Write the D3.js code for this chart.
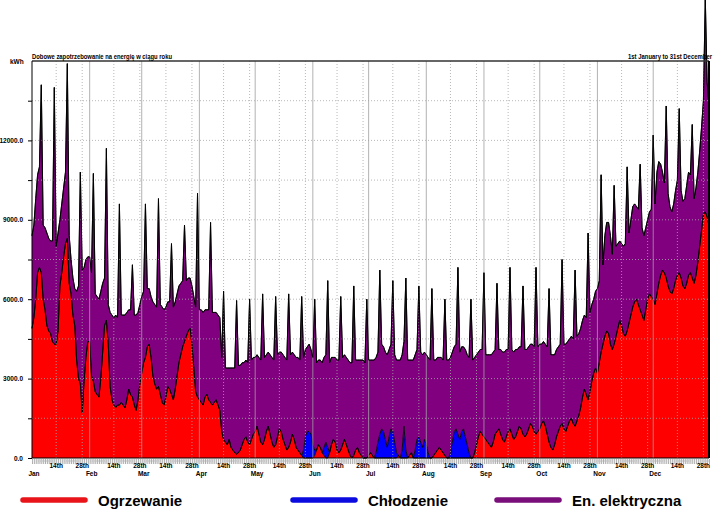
<!DOCTYPE html>
<html><head><meta charset="utf-8">
<script src="https://cdn.jsdelivr.net/npm/d3@7"></script>
<style>body{margin:0;background:#fff} svg{display:block}</style>
</head><body>
<svg id="c" width="721" height="516"></svg>
<script>
const months = ["Jan","Feb","Mar","Apr","May","Jun","Jul","Aug","Sep","Oct","Nov","Dec"];
const monthStarts = [1,32,60,91,121,152,182,213,244,274,305,335];
const dayLabels = ["14th","28th"];
const yTicks = [0,3000,6000,9000,12000];
const seriesNames = ["Ogrzewanie","Chłodzenie","En. elektryczna"];
const seriesColors = ["#ff0000","#0000ff","#800080"];

// daily heating (kWh), by month
const heatingByMonth = [
 [4900,5300,6000,7000,7200,7000,6000,5600,5000,4800,4700,4400,4300,4300,4800,6500,7000,7600,8100,8300,6600,6200,5400,5000,3700,3000,2800,1700,2900,3800,4400],
 [4400,3100,2900,2500,2400,2300,3000,4000,5000,5200,4300,2700,2200,2000,1900,2000,2000,2100,2000,1900,2200,2600,2400,2300,2000,1800,2200,2800],
 [3200,3600,3800,4200,4300,3800,3100,2800,2600,2700,2400,2100,2000,2300,2700,2600,2400,2200,2600,3100,3600,3900,4200,4400,4600,4800,4900,4300,3400,2500,2300],
 [2200,2100,2000,2300,2400,2200,2100,2000,2100,2200,2000,1800,1000,700,600,500,700,400,300,200,150,200,300,500,700,800,600,500,700,900],
 [1000,1200,900,600,500,700,1000,1200,900,600,400,500,800,1100,1000,700,500,300,400,600,900,700,400,300,200,100,0,0,0,0,0],
 [0,100,300,500,400,200,100,0,0,200,500,700,600,300,200,300,500,700,500,300,100,0,100,300,400,200,100,0,0,0],
 [100,200,100,0,0,0,0,0,0,0,0,0,0,0,0,0,100,0,0,0,0,0,100,200,0,0,0,0,0,0,0],
 [0,0,0,0,100,200,300,400,300,200,100,0,0,0,0,0,0,0,0,0,0,0,0,0,0,0,200,500,800,1000,900],
 [800,700,600,500,400,600,900,1000,1100,900,700,600,800,1000,1100,900,700,800,1000,1200,1100,900,800,900,1100,1300,1200,1000,900,1000],
 [1100,1300,1400,1200,900,600,400,300,500,800,1000,1200,1300,1100,1000,1200,1400,1500,1300,1200,1400,1600,1900,2300,2600,2400,2200,2500,2900,3200,3400],
 [3200,3600,4000,4300,4600,4800,4700,4300,4100,4300,4600,4900,5200,5000,4700,4600,4800,5100,5400,5700,5900,6000,5800,5600,5400,5200,5600,6000,6200,6100],
 [6000,5800,6200,6600,6900,7100,7000,6800,6500,6300,6200,6400,6700,6900,7000,6800,6500,6400,6600,6900,7000,6800,6600,6900,7400,8000,8600,9200,9300,9100,8800]
];
// daily cooling (kWh), by month
const coolingByMonth = [
 [0,0,0,0,0,0,0,0,0,0,0,0,0,0,0,0,0,0,0,0,0,0,0,0,0,0,0,0,0,0,0],
 [0,0,0,0,0,0,0,0,0,0,0,0,0,0,0,0,0,0,0,0,0,0,0,0,0,0,0,0],
 [0,0,0,0,0,0,0,0,0,0,0,0,0,0,0,0,0,0,0,0,0,0,0,0,0,0,0,0,0,0,0],
 [0,0,0,0,0,0,0,0,0,0,0,0,0,0,0,0,0,0,0,0,0,0,0,0,0,0,0,0,0,0],
 [0,0,0,0,0,0,0,0,0,0,0,0,0,0,0,0,0,0,0,0,0,0,0,0,0,0,300,800,1000,1000,900],
 [500,200,0,0,0,0,300,600,400,0,0,0,0,0,0,0,0,0,0,0,0,0,0,0,0,0,0,0,0,0],
 [0,0,0,0,200,600,900,1100,1000,700,400,800,1100,1000,600,200,0,0,300,1200,300,0,0,0,0,300,700,800,600,400,700],
 [500,200,0,0,0,0,0,0,0,0,0,0,0,200,600,1000,1100,900,700,1000,1100,800,500,200,0,0,0,0,0,0,0],
 [0,0,0,0,0,0,0,0,0,0,0,0,0,0,0,0,0,0,0,0,0,0,0,0,0,0,0,0,0,0],
 [0,0,0,0,0,0,0,0,0,0,0,0,0,0,0,0,0,0,0,0,0,0,0,0,0,0,0,0,0,0,0],
 [0,0,0,0,0,0,0,0,0,0,0,0,0,0,0,0,0,0,0,0,0,0,0,0,0,0,0,0,0,0],
 [0,0,0,0,0,0,0,0,0,0,0,0,0,0,0,0,0,0,0,0,0,0,0,0,0,0,0,0,0,0,0]
];
// daily electricity (kWh), by month
const electricityByMonth = [
 [3500,3500,3800,3700,3800,7100,2800,3100,3500,3500,3500,3800,9700,3700,3700,2500,2600,2600,2700,6600,1800,1300,1400,1400,2600,3500,8000,5400,4300,3700,3200],
 [3200,3900,7850,3700,3700,3700,3300,2600,1800,6500,1500,2800,3200,3300,3500,3300,7600,3300,3400,3500,3300,3000,3200,5000,3400,3600,3300,3000],
 [2900,2700,5800,2200,2100,2300,2800,3000,3100,7100,3400,3600,3600,3400,3200,3300,5700,3500,3300,3100,2900,2700,2500,4400,2100,2000,1900,2200,2700,3200,7700],
 [3400,3500,3500,3300,3200,3400,6800,3500,3400,3300,3400,3500,2800,5600,2800,2900,2700,3000,3100,3200,5800,3300,3200,3100,2900,2900,3000,5500,3000,2900],
 [2800,2700,2900,3100,5700,3100,2900,2800,3000,3200,3300,5600,3100,2900,3000,3200,3300,3400,5800,3300,3100,3200,3400,3500,3500,6000,3500,3300,3200,3300,3200],
 [3300,5700,3300,3200,3300,3400,3400,3300,6300,3400,3300,3100,3200,3400,3500,5800,3300,3200,3300,3400,3500,3600,6400,3400,3300,3500,3600,3700,3600,6000],
 [3600,3500,3600,3700,3600,3400,6200,3200,3200,3300,3500,3300,3200,5700,3300,3500,3600,3700,3600,3200,6500,3700,3600,3500,3700,3600,3400,5700,3400,3500,3300],
 [3400,3600,3700,6400,3600,3500,3500,3400,3500,3500,5900,3700,3700,3600,3400,3200,3200,6300,3300,3200,3100,3300,3400,3600,6000,3700,3600,3400,3200,3100,3200],
 [6200,3200,3300,3400,3500,3400,3200,5600,3000,3200,3300,3400,3300,3100,6100,3200,3300,3300,3100,3000,3100,5600,3300,3200,3100,3000,3100,3200,6300,3200],
 [3200,3000,3000,3100,3300,5800,3500,3600,3400,3300,3200,3100,6200,3200,3300,3200,3100,3100,3200,5900,3200,3100,3000,2900,2800,2900,6300,3000,2900,2800,2900],
 [3200,3100,6700,3000,3800,4100,4200,4100,3600,6000,3400,3200,3000,3100,3300,3500,6200,3400,3600,3800,3700,3500,3600,5500,3300,3200,3100,3000,3100,3300],
 [6200,3800,4600,4600,4200,3700,3400,6500,3500,3200,3100,3200,3400,3600,6200,3300,3200,3400,3700,3900,3700,5800,3200,3300,3400,3600,3900,4300,8100,5100,4500]
];

const heating = heatingByMonth.flat();
const cooling = coolingByMonth.flat();
const electricity = electricityByMonth.flat();

const svg = d3.select("#c");
const X0 = 32, X1 = 709, Y0 = 458, Y1 = 61;
const x = d3.scaleLinear().domain([1, 365]).range([X0, X1]);
const y = d3.scaleLinear().domain([0, 15000]).range([Y0, Y1]);

const data = heating.map((h, i) => ({day: i + 1, h: h, c: cooling[i] || 0, e: electricity[i] || 0}));
const stacked = d3.stack().keys(["h", "c", "e"])(data);

const area = d3.area().x(d => x(d.data.day)).y0(d => y(d[0])).y1(d => y(d[1]));
const topLine = d3.line().x(d => x(d.data.day)).y(d => y(d[1]));

// fills
const gA = svg.append("g");
stacked.forEach((s, k) => {
  gA.append("path").attr("d", area(s)).attr("fill", seriesColors[k]).attr("stroke", "none");
});

// grid on top of fills
const gG = svg.append("g");
for (let v = 1500; v < 15000; v += 1500) {
  gG.append("line").attr("x1", X0).attr("x2", X1).attr("y1", y(v)).attr("y2", y(v))
    .attr("stroke", "#a8a8a8").attr("stroke-width", 1).attr("stroke-dasharray", "1,2").attr("opacity", 0.8);
}
monthStarts.forEach((m, i) => {
  if (i > 0) gG.append("line").attr("x1", x(m)).attr("x2", x(m)).attr("y1", Y1).attr("y2", Y0)
    .attr("stroke", "#a0a0a0").attr("stroke-width", 1).attr("opacity", 0.8);
  [13, 27].forEach(off => {
    gG.append("line").attr("x1", x(m + off)).attr("x2", x(m + off)).attr("y1", Y1).attr("y2", Y0)
      .attr("stroke", "#a8a8a8").attr("stroke-width", 1).attr("stroke-dasharray", "1,2").attr("opacity", 0.8);
  });
});

// outlines
stacked.forEach((s, k) => {
  gA.append("path").attr("d", topLine(s)).attr("fill", "none").attr("stroke", "#000").attr("stroke-width", 0.9);
});
svg.append("path").attr("d", topLine(stacked[2])).attr("fill", "none").attr("stroke", "#000").attr("stroke-width", 0.9);

// frame
svg.append("line").attr("x1", X0).attr("x2", X1).attr("y1", Y1).attr("y2", Y1).attr("stroke", "#333").attr("stroke-width", 1.5);
svg.append("line").attr("x1", X0).attr("x2", X0).attr("y1", Y1).attr("y2", Y0).attr("stroke", "#000").attr("stroke-width", 1);
svg.append("line").attr("x1", X1).attr("x2", X1).attr("y1", Y1).attr("y2", Y0).attr("stroke", "#000").attr("stroke-width", 2);
svg.append("line").attr("x1", X0).attr("x2", X1).attr("y1", Y0).attr("y2", Y0).attr("stroke", "#000").attr("stroke-width", 1);

// y axis
const yAxis = d3.axisLeft(y).tickValues(d3.range(0, 15000, 1500)).tickSize(4)
  .tickFormat(d => yTicks.includes(d) ? d.toFixed(1) : "");
const gy = svg.append("g").attr("transform", `translate(${X0},0)`).call(yAxis);
gy.select(".domain").remove();
gy.selectAll("text").attr("x", -9).attr("font-family", "Liberation Sans, Arial, sans-serif")
  .attr("font-size", 6.5).attr("font-weight", "bold").attr("fill", "#000");
gy.selectAll("line").attr("stroke", "#000");

// x axis daily ticks
const xAxis = d3.axisBottom(x).tickValues(d3.range(1, 366)).tickSize(5).tickFormat("");
const gx = svg.append("g").attr("transform", `translate(0,${Y0 + 1})`).call(xAxis);
gx.select(".domain").remove();
gx.selectAll("line").attr("stroke", "#8a8a8a").attr("stroke-width", 0.7);
svg.append("line").attr("x1", X0).attr("x2", X1).attr("y1", Y0 + 3).attr("y2", Y0 + 3)
  .attr("stroke", "#bbb").attr("stroke-width", 1).attr("stroke-dasharray", "1,1");

const fontF = "Liberation Sans, Arial, sans-serif";
monthStarts.forEach((m, i) => {
  svg.append("text").attr("x", x(m) + 2).attr("y", 476).attr("text-anchor", "middle")
    .attr("font-family", fontF).attr("font-size", 6.5).attr("font-weight", "bold").text(months[i]);
  [13, 27].forEach((off, j) => {
    svg.append("text").attr("x", x(m + off)).attr("y", 468).attr("text-anchor", "middle")
      .attr("font-family", fontF).attr("font-size", 6.5).attr("font-weight", "bold").text(dayLabels[j]);
  });
});

// titles
svg.append("text").attr("x", 32).attr("y", 59).attr("font-family", fontF).attr("font-size", 6.5)
  .attr("font-weight", "bold").attr("textLength", 140).attr("lengthAdjust", "spacingAndGlyphs")
  .text("Dobowe zapotrzebowanie na energię w ciągu roku");
svg.append("text").attr("x", 628).attr("y", 59).attr("font-family", fontF).attr("font-size", 6.5)
  .attr("font-weight", "bold").attr("textLength", 84).attr("lengthAdjust", "spacingAndGlyphs")
  .text("1st January to 31st December");
svg.append("text").attr("x", 10).attr("y", 64).attr("font-family", fontF).attr("font-size", 6.5)
  .attr("font-weight", "bold").text("kWh");

// legend
const legX = [23, 293, 497];
const legColors = ["#e8141a", "#0b0be0", "#7a0e7a"];
seriesNames.forEach((nm, i) => {
  svg.append("line").attr("x1", legX[i]).attr("x2", legX[i] + 62).attr("y1", 500).attr("y2", 500)
    .attr("stroke", legColors[i]).attr("stroke-width", 5.5).attr("stroke-linecap", "round");
  svg.append("text").attr("x", legX[i] + 75).attr("y", 506).attr("font-family", fontF)
    .attr("font-size", 15).attr("font-weight", "bold").attr("fill", "#000").text(nm);
});
</script>
</body></html>
